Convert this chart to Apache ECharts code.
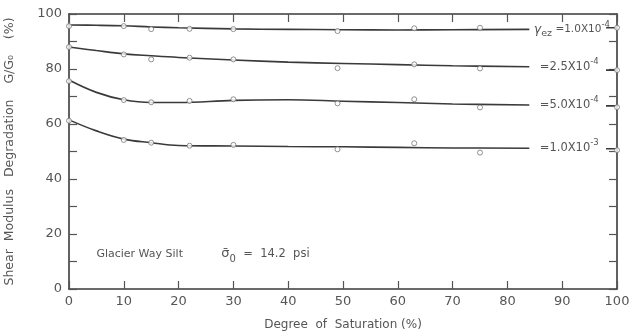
<!DOCTYPE html>
<html><head><meta charset="utf-8">
<script src="https://cdn.jsdelivr.net/npm/echarts@6/dist/echarts.min.js"></script>
<style>html,body{margin:0;padding:0;background:#fff}#c{width:635px;height:331px}</style>
</head><body><div id="c"></div>
<script>
// Measured points: degree of saturation (%) and G/G0 (%)
var satX = [0, 10, 15, 22, 30, 49, 63, 75, 100];
var pts1 = [95.6, 95.6, 94.5, 94.6, 94.5, 93.8, 94.8, 95.0, 95.0];   // 1.0e-4
var pts2 = [88.0, 85.3, 83.5, 84.1, 83.5, 80.3, 81.7, 80.2, 79.6];   // 2.5e-4
var pts3 = [75.6, 68.7, 67.9, 68.4, 69.0, 67.5, 69.0, 66.0, 66.1];   // 5.0e-4
var pts4 = [61.2, 54.2, 53.2, 52.1, 52.4, 50.8, 53.0, 49.6, 50.5];   // 1.0e-3
// Fitted curves
var curveX = [0, 5, 10, 15, 20, 30, 40, 50, 60, 70, 84];
var curve1 = [96.0, 95.9, 95.7, 95.3, 95.0, 94.6, 94.4, 94.3, 94.2, 94.3, 94.4];
var curve2 = [88.0, 86.7, 85.5, 84.8, 84.2, 83.3, 82.5, 82.0, 81.6, 81.2, 80.8];
var curve3 = [76.0, 71.5, 68.8, 67.8, 67.8, 68.6, 68.8, 68.3, 67.8, 67.3, 66.9];
var curve4 = [61.5, 57.5, 54.5, 53.2, 52.2, 52.0, 51.8, 51.7, 51.5, 51.3, 51.2];
var tailX = [98, 100];
var tailY = [95.0, 79.6, 66.6, 51.0];
var strainExp = ['-4', '-4', '-4', '-3'];
var strainMant = ['1.0', '2.5', '5.0', '1.0'];
var yTicks = [0, 20, 40, 60, 80, 100];

var lineColor = '#3a3a3a';
var font = 'DejaVu Sans';
var textColor = '#555';

function curveSeries(cy, idx) {
  var data = curveX.map(function (x, i) { return [x, cy[i]]; });
  var last = data[data.length - 1];
  var ts = idx === 0 ? 10.5 : 11.5;
  var rich = {
    g: { fontSize: 12.5, fontStyle: 'italic', color: textColor, fontFamily: font },
    sub: { fontSize: 9.5, color: textColor, fontFamily: font, padding: [9, 0, 0, 0] },
    t: { fontSize: ts, color: textColor, fontFamily: font },
    sup: { fontSize: 8.5, color: textColor, fontFamily: font, padding: [0, 0, 10, 0] }
  };
  var txt = (idx === 0 ? '{g|γ}{sub|ez} ' : '') + '{t|=' + strainMant[idx] + 'X10}{sup|' + strainExp[idx] + '}';
  data.push([91, '-']);
  tailX.forEach(function (x) { data.push([x, tailY[idx]]); });
  return {
    type: 'line', data: data, smooth: 0.4, showSymbol: false, symbol: 'none',
    connectNulls: false, silent: true,
    lineStyle: { color: lineColor, width: 1.6 },
    markPoint: {
      silent: true, animation: false,
      data: [{ coord: last, symbol: 'circle', symbolSize: 1, itemStyle: { color: 'rgba(0,0,0,0)' },
        label: { show: true, position: 'right', distance: idx === 0 ? 4 : 10, formatter: txt, rich: rich } }]
    }
  };
}
function ptSeries(py) {
  return {
    type: 'scatter', data: satX.map(function (x, i) { return [x, py[i]]; }),
    symbol: 'circle', symbolSize: 5, z: 5,
    itemStyle: { color: '#fff', borderColor: '#777', borderWidth: 1 }
  };
}

var chart = echarts.init(document.getElementById('c'), null, { renderer: 'canvas' });
var axisLine = { show: true, onZero: false, lineStyle: { color: lineColor, width: 1.6 } };
var tick = { inside: true, length: 8, lineStyle: { color: '#555', width: 1.2 } };
chart.setOption({
  animation: false,
  backgroundColor: '#fff',
  grid: { left: 69, right: 18, top: 14, bottom: 42, containLabel: false, outerBoundsMode: 'none' },
  xAxis: [
    { type: 'value', min: 0, max: 100, interval: 10, position: 'bottom',
      axisLine: axisLine, splitLine: { show: false }, axisTick: tick,
      axisLabel: { color: textColor, fontFamily: font, fontSize: 13, margin: 6 },
      name: 'Degree  of  Saturation (%)', nameLocation: 'middle', nameGap: 30,
      nameTextStyle: { color: textColor, fontFamily: font, fontSize: 12 } },
    { type: 'value', min: 0, max: 100, interval: 10, position: 'top',
      axisLine: axisLine, splitLine: { show: false }, axisTick: tick,
      axisLabel: { show: false } }
  ],
  yAxis: [
    { type: 'value', min: 0, max: 100, interval: 10, position: 'left',
      axisLine: axisLine, splitLine: { show: false }, axisTick: tick,
      axisLabel: { color: textColor, fontFamily: font, fontSize: 13, margin: 7,
        formatter: function (v) { return yTicks.indexOf(v) >= 0 ? String(v) : ''; } },
      name: 'Shear  Modulus   Degradation    G/G\u2080    (%)', nameLocation: 'middle', nameGap: 53,
      nameTextStyle: { color: textColor, fontFamily: font, fontSize: 12.5 } },
    { type: 'value', min: 0, max: 100, interval: 10, position: 'right',
      axisLine: axisLine, splitLine: { show: false }, axisTick: tick,
      axisLabel: { show: false } }
  ],
  series: [
    curveSeries(curve1, 0), curveSeries(curve2, 1), curveSeries(curve3, 2), curveSeries(curve4, 3),
    ptSeries(pts1), ptSeries(pts2), ptSeries(pts3), ptSeries(pts4)
  ]
});

var p1 = chart.convertToPixel({ xAxisIndex: 0, yAxisIndex: 0 }, [5, 12.7]);
var p2 = chart.convertToPixel({ xAxisIndex: 0, yAxisIndex: 0 }, [27.8, 12.7]);
chart.setOption({
  graphic: [
    { type: 'text', x: p1[0], y: p1[1],
      style: { text: 'Glacier Way Silt', fill: textColor, font: '11px "' + font + '"', textVerticalAlign: 'middle' } },
    { type: 'text', x: p2[0], y: p2[1],
      style: { text: '{s|\u03C3\u0304}{sub|0}{t|  =  14.2  psi}', textVerticalAlign: 'middle',
        rich: {
          s: { fontSize: 13, fill: textColor, fontFamily: font },
          sub: { fontSize: 10, fill: textColor, fontFamily: font, padding: [10, 0, 0, 0] },
          t: { fontSize: 11.5, fill: textColor, fontFamily: font }
        } } }
  ]
});
</script></body></html>
